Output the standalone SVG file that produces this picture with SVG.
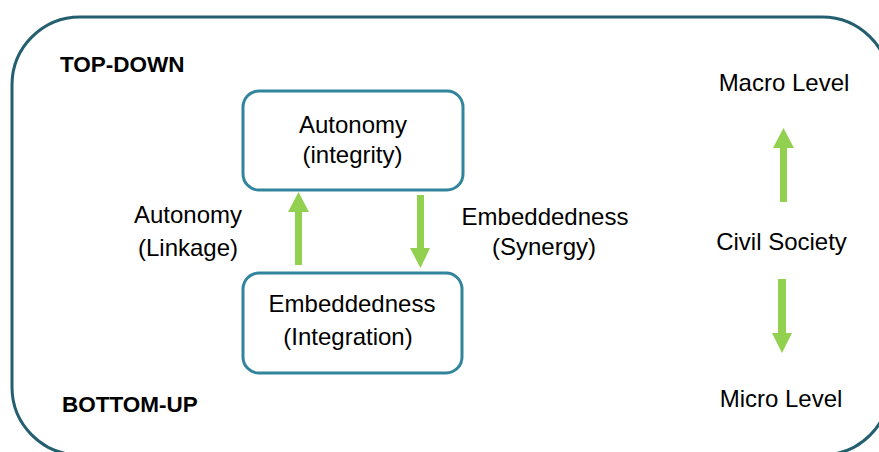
<svg xmlns="http://www.w3.org/2000/svg" width="879" height="452" viewBox="0 0 879 452">
  <style>
    .frame { fill: none; stroke: #245F6F; stroke-width: 3; }
    .box { fill: #FFFFFF; stroke: #31849B; stroke-width: 3; }
    .txt { font-family: "Liberation Sans", Arial, sans-serif; font-size: 24px; fill: #000000; text-anchor: middle; }
    .head { font-family: "Liberation Sans", Arial, sans-serif; font-size: 22.5px; font-weight: bold; fill: #000000; }
    .arrow { fill: #92D050; }
  </style>

  <rect width="879" height="452" fill="#FFFFFF"/>

  <!-- outer frame -->
  <rect class="frame" x="12" y="17" width="878" height="438" rx="68" ry="68"/>

  <g id="top-down-label">
    <text class="head" x="60" y="72">TOP-DOWN</text>
  </g>
  <g id="bottom-up-label">
    <text class="head" x="62" y="412">BOTTOM-UP</text>
  </g>

  <g id="autonomy-node">
    <rect class="box" x="243" y="91" width="220" height="99" rx="16" ry="16"/>
    <text class="txt" x="353" y="133">Autonomy</text>
    <text class="txt" x="352.5" y="163">(integrity)</text>
  </g>

  <g id="embeddedness-node">
    <rect class="box" x="243" y="273" width="219" height="100" rx="16" ry="16"/>
    <text class="txt" x="352" y="312">Embeddedness</text>
    <text class="txt" x="348" y="345">(Integration)</text>
  </g>

  <g id="linkage-label">
    <text class="txt" x="188" y="223">Autonomy</text>
    <text class="txt" x="188" y="256">(Linkage)</text>
  </g>

  <g id="synergy-label">
    <text class="txt" x="545" y="225">Embeddedness</text>
    <text class="txt" x="544" y="255">(Synergy)</text>
  </g>

  <g id="macro-level">
    <text class="txt" x="784" y="91">Macro Level</text>
  </g>
  <g id="civil-society">
    <text class="txt" x="781.5" y="250">Civil Society</text>
  </g>
  <g id="micro-level">
    <text class="txt" x="781" y="407">Micro Level</text>
  </g>

  <g id="connectors">
    <!-- embeddedness up to autonomy -->
    <polygon class="arrow" points="295,265 302,265 302,212 309,212 298.5,192 288,212 295,212"/>
    <!-- autonomy down to embeddedness -->
    <polygon class="arrow" points="417,195 424,195 424,248 430,248 420.5,268 410,248 417,248"/>
    <!-- civil society up to macro level -->
    <polygon class="arrow" points="780,202 787,202 787,148 794,148 783.5,128 773,148 780,148"/>
    <!-- civil society down to micro level -->
    <polygon class="arrow" points="778,279 786,279 786,333 792,333 782,353 772,333 778,333"/>
  </g>
</svg>
